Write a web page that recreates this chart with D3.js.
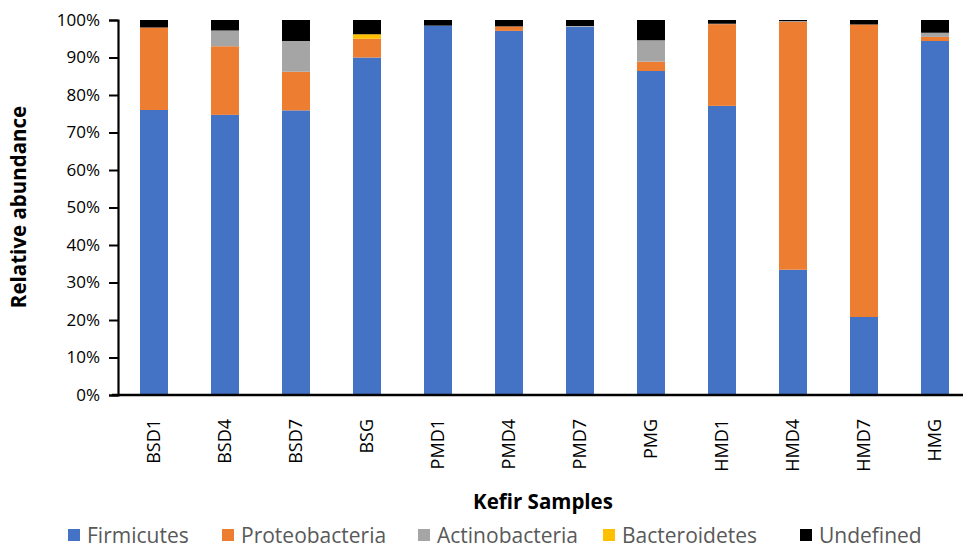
<!DOCTYPE html>
<meta charset="utf-8">
<head>
    <style>
        body { margin: 0; background: #fff; }
        text { font-family: 'Open Sans', sans-serif; }
        .axis path, .axis line { stroke: #000; }
        .axis text { fill: #000; font-size: 17px; }
        .title { font-weight: bold; font-size: 20.5px; }
        .legend text { fill: #595959; font-size: 21px; }
    </style>
</head>
<body>
    <svg width="963" height="548"></svg>
    <script src="https://d3js.org/d3.v7.min.js"></script>
    <script type="text/javascript">

        var samples = ["BSD1", "BSD4", "BSD7", "BSG", "PMD1", "PMD4", "PMD7", "PMG", "HMD1", "HMD4", "HMD7", "HMG"];
        var phyla = ["Firmicutes", "Proteobacteria", "Actinobacteria", "Bacteroidetes", "Undefined"];
        var colors = ["#4472C4", "#ED7D31", "#A5A5A5", "#FFC000", "#000000"];

        // percentages per sample
        var firmicutes     = [76.0, 74.7, 75.9, 90.0, 98.5, 97.1, 98.2, 86.4, 77.1, 33.4, 20.8, 94.4];
        var proteobacteria = [22.0, 18.3, 10.3,  5.0,  0.0,  1.2,  0.0,  2.5, 21.8, 66.1, 78.0,  1.1];
        var actinobacteria = [ 0.0,  4.2,  8.2,  0.0,  0.0,  0.0,  0.2,  5.7,  0.1,  0.2,  0.0,  1.1];
        var bacteroidetes  = [ 0.0,  0.0,  0.0,  1.2,  0.0,  0.0,  0.0,  0.0,  0.0,  0.0,  0.0,  0.0];
        var undefinedP     = [ 2.0,  2.8,  5.6,  3.8,  1.5,  1.7,  1.6,  5.4,  1.0,  0.3,  1.2,  3.4];
        var yTicks = [0, 10, 20, 30, 40, 50, 60, 70, 80, 90, 100];

        var series = [firmicutes, proteobacteria, actinobacteria, bacteroidetes, undefinedP];

        var rows = samples.map(function (s, i) {
            var r = { sample: s };
            phyla.forEach(function (p, j) { r[p] = series[j][i]; });
            return r;
        });

        var stacked = d3.stack().keys(phyla)(rows);

        var svg = d3.select("svg");

        var x = d3.scaleBand()
            .domain(samples)
            .range([118.5, 970.5])
            .paddingInner(0.606)
            .paddingOuter(0.303);

        var y = d3.scaleLinear()
            .domain([0, 100])
            .range([395, 20]);

        var color = d3.scaleOrdinal().domain(phyla).range(colors);

        // bars
        svg.append("g")
            .selectAll("g")
            .data(stacked)
            .enter().append("g")
            .attr("fill", function (d) { return color(d.key); })
            .selectAll("rect")
            .data(function (d) { return d; })
            .enter().append("rect")
            .attr("x", function (d) { return x(d.data.sample); })
            .attr("y", function (d) { return y(d[1]); })
            .attr("width", x.bandwidth())
            .attr("height", function (d) { return y(d[0]) - y(d[1]); });

        // y axis
        var yAxis = svg.append("g")
            .attr("class", "axis")
            .attr("transform", "translate(118,0)")
            .call(d3.axisLeft(y).tickValues(yTicks).tickSize(9).tickPadding(9)
                .tickFormat(function (d) { return d + "%"; }));
        yAxis.select(".domain").attr("stroke-width", 2.2);
        yAxis.selectAll(".tick line").attr("stroke-width", 2);

        // x axis baseline + labels
        var xAxis = svg.append("g")
            .attr("class", "axis")
            .attr("transform", "translate(0,395)")
            .call(d3.axisBottom(x).tickSize(0).tickSizeOuter(0));
        xAxis.select(".domain").attr("d", "M112,0H963").attr("stroke-width", 2.5);
        xAxis.selectAll(".tick text")
            .attr("transform", "rotate(-90)")
            .attr("x", -24)
            .attr("y", 0)
            .attr("dy", "0.35em")
            .attr("text-anchor", "end")
            .style("font-size", "18px");

        // axis titles
        svg.append("text")
            .attr("class", "title")
            .attr("x", 543)
            .attr("y", 509)
            .attr("text-anchor", "middle")
            .text("Kefir Samples");

        svg.append("text")
            .attr("class", "title")
            .attr("transform", "translate(26,207) rotate(-90)")
            .attr("text-anchor", "middle")
            .text("Relative abundance");

        // legend
        var legendX = [68, 222, 418, 603, 800];
        var legend = svg.append("g")
            .attr("class", "legend")
            .selectAll("g")
            .data(phyla)
            .enter().append("g")
            .attr("transform", function (d, i) { return "translate(" + legendX[i] + ",535)"; });

        legend.append("rect")
            .attr("x", 0)
            .attr("y", -6)
            .attr("width", 12)
            .attr("height", 12)
            .attr("fill", function (d) { return color(d); });

        legend.append("text")
            .attr("x", 19)
            .attr("dy", "0.36em")
            .text(function (d) { return d; });

    </script>
</body>
